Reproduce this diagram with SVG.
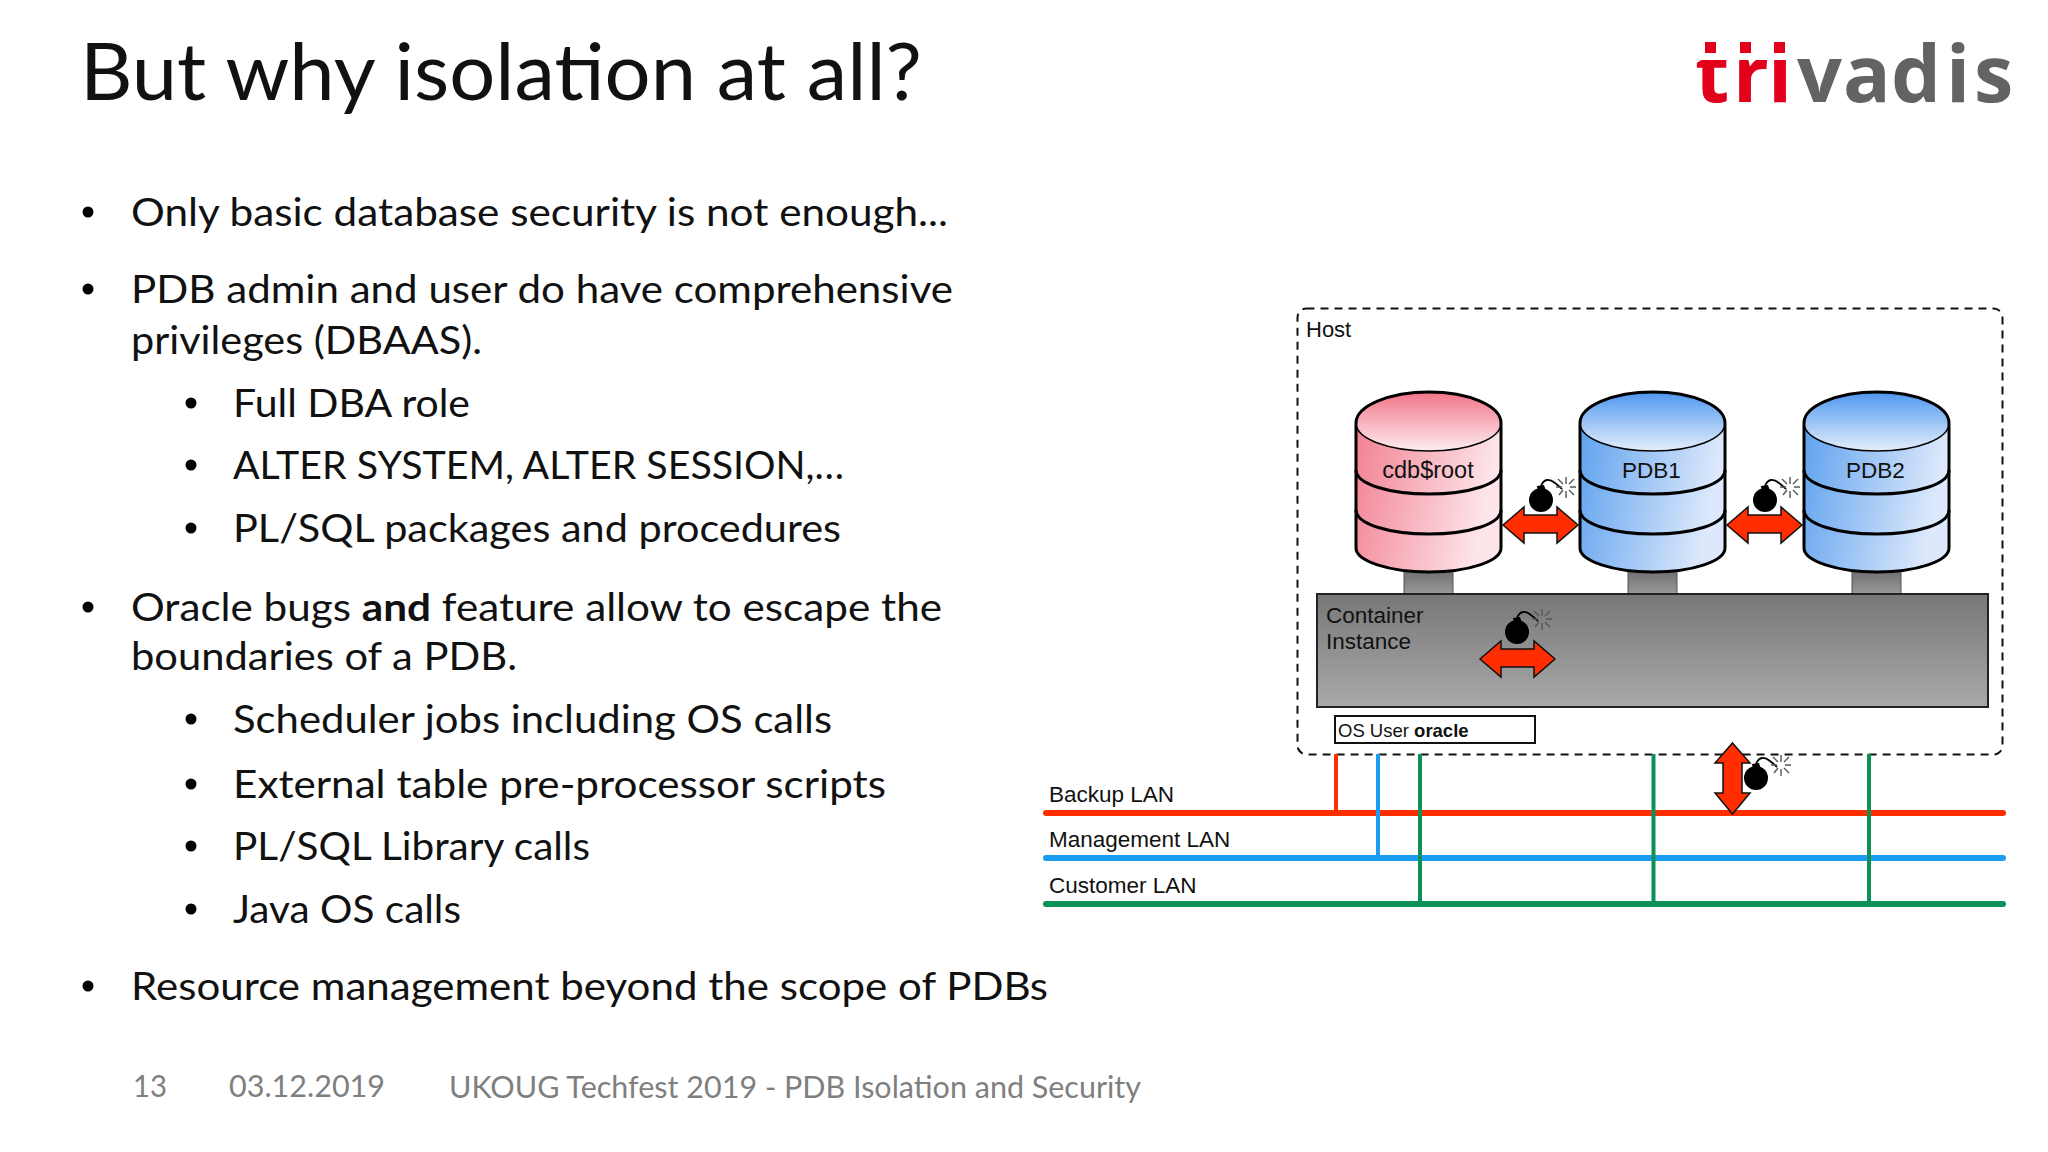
<svg xmlns="http://www.w3.org/2000/svg" width="2048" height="1152" viewBox="0 0 2048 1152">
<style>
.b{font-family:Lato,"Liberation Sans",sans-serif;font-size:38px;fill:#111}
.f{font-family:Lato,"Liberation Sans",sans-serif;font-size:30px;fill:#7f7f7f}
.d{font-family:"Liberation Sans",Arial,sans-serif;font-size:22.500px;fill:#111}
.c{text-anchor:middle}
.lan{fill:none;stroke-width:6;stroke-linecap:round}
.v{fill:none;stroke-width:4}
.r{stroke:#ff2d00}.bl{stroke:#1b9cf2}.g{stroke:#0b9058}
.o{fill:none;stroke:#000;stroke-width:3}
.t{fill:none;stroke:#000;stroke-width:1.500}
.arr{fill:#ff2d00;stroke:#111;stroke-width:1.500;stroke-linejoin:miter}
.stem{stroke:#555;stroke-width:1}
</style>
<defs>
<linearGradient id="pc" x1="0" y1="0" x2="0" y2="1"><stop offset="0" stop-color="#f27589"/><stop offset="1" stop-color="#fdeef1"/></linearGradient>
<linearGradient id="ps" x1="0" y1="0" x2="1" y2="0.25"><stop offset="0" stop-color="#f27c8f"/><stop offset="1" stop-color="#fde6ea"/></linearGradient>
<linearGradient id="bc" x1="0" y1="0" x2="0" y2="1"><stop offset="0" stop-color="#4f98ee"/><stop offset="1" stop-color="#e6f0fc"/></linearGradient>
<linearGradient id="bs" x1="0" y1="0" x2="1" y2="0.25"><stop offset="0" stop-color="#599eee"/><stop offset="1" stop-color="#dde9fb"/></linearGradient>
<linearGradient id="st" x1="0" y1="0" x2="0" y2="1"><stop offset="0" stop-color="#6e6e6e"/><stop offset="1" stop-color="#999"/></linearGradient>
<linearGradient id="ci" x1="0" y1="0" x2="0" y2="1"><stop offset="0" stop-color="#777"/><stop offset="1" stop-color="#a9a9a9"/></linearGradient>
<clipPath id="lg"><rect x="1680" y="60" width="360" height="50"/><rect x="1790" y="30" width="250" height="90"/></clipPath>
<path id="cylb" d="M0 31V156C0 169 33 180 73 180S145 169 145 156V31C145 14 113 0 73 0S0 14 0 31Z"/>
<g id="cyll">
<path class="o" d="M0 31V156C0 169 33 180 73 180S145 169 145 156V31C145 14 113 0 73 0S0 14 0 31Z"/>
<path class="t" d="M0 31C0 47 33 59 73 59S145 47 145 31"/>
<path class="o" d="M0 78C0 92 33 102 73 102S145 92 145 78"/>
<path class="o" d="M0 118C0 132 33 142 73 142S145 132 145 118"/>
</g>
<path id="ha" class="arr" d="M0 18L21 0V8H54V0L75 18L54 36V26H21V36Z"/>
<g id="bomb">
<circle cx="0" cy="0" r="12"/>
<path d="M-4-14L3-15 5-9-3-9Z"/>
<path d="M0-14C3-22 9-21 14-17S20-12 21-11" fill="none" stroke="#000" stroke-width="1.800"/>
<path d="M25-16V-23M25-9V-2M21-13H15M29-13H35M22-16L17-21M28-16L33-21M22-10L18-5M28-10L33-5" fill="none" stroke="#555" stroke-width="1.400"/>
</g>
</defs>
<rect width="2048" height="1152" fill="#fff"/>

<g id="title"><text x="80" y="100" font-family="Lato,'Liberation Sans',sans-serif" font-size="79" fill="#111" textLength="842" lengthAdjust="spacingAndGlyphs">But why isolation at all?</text></g>

<g id="logo">
<text y="102" font-family="'Open Sans','Liberation Sans',sans-serif" font-size="79" font-weight="700" clip-path="url(#lg)" fill="#636366"><tspan fill="#e2001a" x="1695">t</tspan><tspan fill="#e2001a" x="1733">r</tspan><tspan fill="#e2001a" x="1768">i</tspan><tspan x="1797">v</tspan><tspan x="1843">a</tspan><tspan x="1891">d</tspan><tspan x="1946">i</tspan><tspan x="1974">s</tspan></text>
<rect x="1705" y="42" width="11" height="11" fill="#e2001a"/><rect x="1740" y="42" width="11" height="11" fill="#e2001a"/><rect x="1774" y="42" width="11" height="11" fill="#e2001a"/>
</g>

<g id="bullets">
<circle cx="88" cy="212" r="5.500"/><circle cx="88" cy="289" r="5.500"/><circle cx="88" cy="607" r="5.500"/><circle cx="88" cy="986" r="5.500"/>
<circle cx="191" cy="403" r="5.500"/><circle cx="191" cy="465" r="5.500"/><circle cx="191" cy="528" r="5.500"/><circle cx="191" cy="719" r="5.500"/><circle cx="191" cy="784" r="5.500"/><circle cx="191" cy="846" r="5.500"/><circle cx="191" cy="909" r="5.500"/>
</g>
<g id="body">
<text class="b" x="131" y="226" textLength="817" lengthAdjust="spacingAndGlyphs">Only basic database security is not enough...</text>
<text class="b" x="131" y="303" textLength="822" lengthAdjust="spacingAndGlyphs">PDB admin and user do have comprehensive</text>
<text class="b" x="131" y="354" textLength="351" lengthAdjust="spacingAndGlyphs">privileges (DBAAS).</text>
<text class="b" x="233" y="417" textLength="237" lengthAdjust="spacingAndGlyphs">Full DBA role</text>
<text class="b" x="233" y="479" textLength="611" lengthAdjust="spacingAndGlyphs">ALTER SYSTEM, ALTER SESSION,…</text>
<text class="b" x="233" y="542" textLength="608" lengthAdjust="spacingAndGlyphs">PL/SQL packages and procedures</text>
<text class="b" x="131" y="621" textLength="811" lengthAdjust="spacingAndGlyphs">Oracle bugs <tspan font-weight="700">and</tspan> feature allow to escape the</text>
<text class="b" x="131" y="670" textLength="386" lengthAdjust="spacingAndGlyphs">boundaries of a PDB.</text>
<text class="b" x="233" y="733" textLength="599" lengthAdjust="spacingAndGlyphs">Scheduler jobs including OS calls</text>
<text class="b" x="233" y="798" textLength="653" lengthAdjust="spacingAndGlyphs">External table pre-processor scripts</text>
<text class="b" x="233" y="860" textLength="357" lengthAdjust="spacingAndGlyphs">PL/SQL Library calls</text>
<text class="b" x="233" y="923" textLength="228" lengthAdjust="spacingAndGlyphs">Java OS calls</text>
<text class="b" x="131" y="1000" textLength="917" lengthAdjust="spacingAndGlyphs">Resource management beyond the scope of PDBs</text>
</g>
<g id="footer">
<text class="f" x="133" y="1097" textLength="34" lengthAdjust="spacingAndGlyphs">13</text>
<text class="f" x="229" y="1097" textLength="156" lengthAdjust="spacingAndGlyphs">03.12.2019</text>
<text class="f" x="449" y="1098" textLength="692" lengthAdjust="spacingAndGlyphs">UKOUG Techfest 2019 - PDB Isolation and Security</text>
</g>

<g id="host"><rect x="1297.500" y="308.500" width="705" height="446" rx="9" fill="none" stroke="#111" stroke-width="2" stroke-dasharray="8 6"/><text class="d" x="1306" y="337" style="font-size:22px">Host</text></g>

<g id="stems">
<rect class="stem" x="1404" y="570" width="49" height="24" fill="url(#st)"/>
<rect class="stem" x="1628" y="570" width="49" height="24" fill="url(#st)"/>
<rect class="stem" x="1852" y="570" width="49" height="24" fill="url(#st)"/>
</g>
<g id="cdbroot" transform="translate(1356 392)"><use href="#cylb" fill="url(#ps)"/><ellipse cx="72.500" cy="30" rx="72.500" ry="29.500" fill="url(#pc)"/><use href="#cyll"/><text class="d c" x="72" y="86" style="font-size:23.500px">cdb$root</text></g>
<g id="pdb1" transform="translate(1580 392)"><use href="#cylb" fill="url(#bs)"/><ellipse cx="72.500" cy="30" rx="72.500" ry="29.500" fill="url(#bc)"/><use href="#cyll"/><text class="d c" x="71.500" y="86">PDB1</text></g>
<g id="pdb2" transform="translate(1804 392)"><use href="#cylb" fill="url(#bs)"/><ellipse cx="72.500" cy="30" rx="72.500" ry="29.500" fill="url(#bc)"/><use href="#cyll"/><text class="d c" x="71.500" y="86">PDB2</text></g>

<g id="container"><rect x="1317" y="594" width="671" height="113" fill="url(#ci)" stroke="#222" stroke-width="2"/><text class="d" x="1326" y="623">Container</text><text class="d" x="1326" y="649">Instance</text></g>
<g id="osuser"><rect x="1335" y="716" width="200" height="27" fill="#fff" stroke="#111" stroke-width="2"/><text class="d" x="1338" y="736.500" style="font-size:18.500px">OS User <tspan font-weight="700">oracle</tspan></text></g>

<g id="connectors">
<path class="lan r" d="M1046 813H2003"/>
<path class="lan bl" d="M1046 858H2003"/>
<path class="lan g" d="M1046 904H2003"/>
<path class="v r" d="M1336 754V813"/>
<path class="v bl" d="M1378 754V858"/>
<path class="v g" d="M1420 754V904M1653.500 754V904M1869 754V904"/>
</g>
<g id="lan-labels">
<text class="d" x="1049" y="802">Backup LAN</text>
<text class="d" x="1049" y="847">Management LAN</text>
<text class="d" x="1049" y="893">Customer LAN</text>
</g>

<g id="threat1"><use href="#ha" x="1503" y="507"/><use href="#bomb" x="1541" y="500"/></g>
<g id="threat2"><use href="#ha" x="1727" y="507"/><use href="#bomb" x="1765" y="500"/></g>
<g id="threat3"><use href="#ha" x="1480" y="641"/><use href="#bomb" x="1517" y="632"/></g>
<g id="threat4"><path class="arr" d="M1732.500 743L1750 763H1742V793H1750L1732.500 814L1715 793H1723V763H1715Z"/><use href="#bomb" x="1756" y="778"/></g>
</svg>
